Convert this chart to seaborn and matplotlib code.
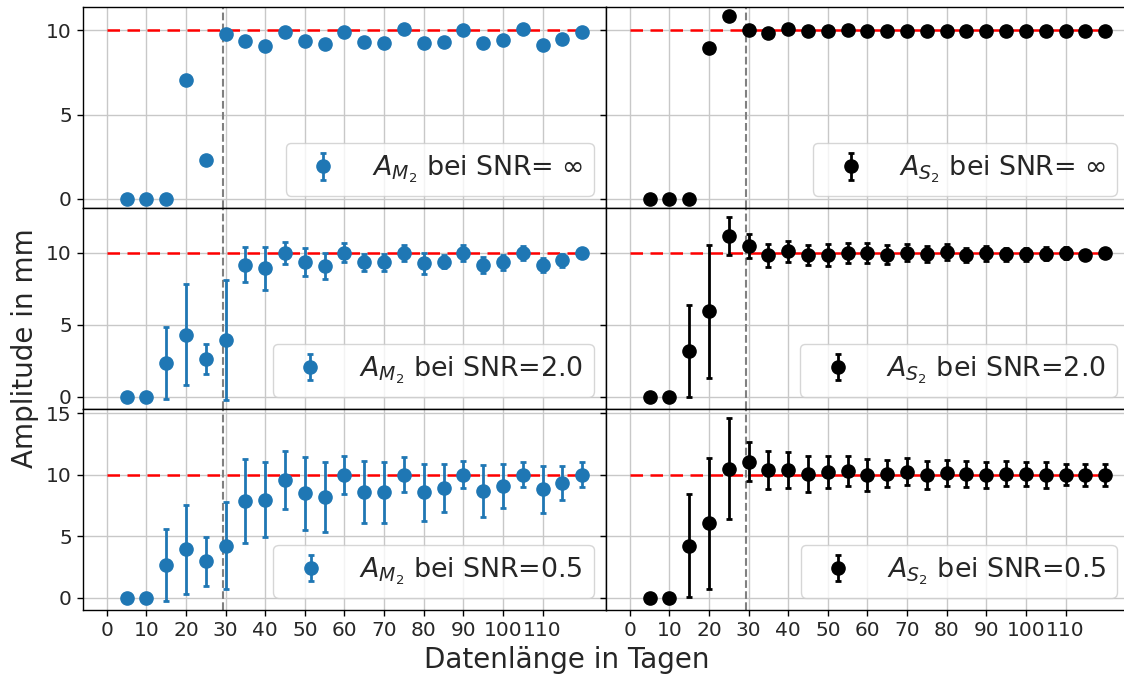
import matplotlib
matplotlib.use("Agg")
import matplotlib.pyplot as plt
import seaborn as sns

# ---------------- data ----------------
days = [5, 10, 15, 20, 25, 30, 35, 40, 45, 50, 55, 60,
        65, 70, 75, 80, 85, 90, 95, 100, 105, 110, 115, 120]
xticks = [0, 10, 20, 30, 40, 50, 60, 70, 80, 90, 100, 110]

m2_inf = [0, 0, 0, 7.03, 2.28, 9.8, 9.37, 9.05, 9.9, 9.35, 9.17, 9.9,
          9.29, 9.23, 10.04, 9.21, 9.29, 10.0, 9.23, 9.39, 10.04, 9.15, 9.47, 9.9]
m2_inf_err = [0] * 24
s2_inf = [0, 0, 0, 8.97, 10.83, 10.0, 9.84, 10.04, 9.94, 9.94, 10.0, 9.95,
          9.95, 9.96, 9.95, 9.96, 9.95, 9.96, 9.95, 9.96, 9.95, 9.95, 9.95, 9.95]
s2_inf_err = [0] * 24

m2_2 = [0, 0, 2.34, 4.3, 2.62, 3.95, 9.17, 8.92, 10.0, 9.36, 9.08, 10.0,
        9.34, 9.34, 10.0, 9.26, 9.38, 10.0, 9.15, 9.33, 10.0, 9.15, 9.47, 10.0]
m2_2_err = [0, 0, 2.5, 3.5, 1.05, 4.15, 1.2, 1.5, 0.75, 0.95, 0.9, 0.65,
            0.58, 0.6, 0.55, 0.7, 0.45, 0.57, 0.55, 0.5, 0.5, 0.5, 0.45, 0.35]
s2_2 = [0, 0, 3.18, 5.93, 11.17, 10.46, 9.84, 10.09, 9.86, 9.84, 9.98, 9.98,
        9.86, 10.0, 9.9, 10.05, 9.86, 9.95, 9.9, 9.9, 9.93, 9.98, 9.86, 10.0]
s2_2_err = [0, 0, 3.2, 4.6, 1.3, 0.85, 0.8, 0.72, 0.7, 0.75, 0.7, 0.7,
            0.65, 0.6, 0.55, 0.55, 0.5, 0.5, 0.45, 0.45, 0.45, 0.4, 0.35, 0.35]

m2_05 = [0, 0, 2.66, 3.93, 2.98, 4.25, 7.86, 7.97, 9.57, 8.48, 8.16, 10.0,
         8.59, 8.56, 10.0, 8.56, 8.89, 10.0, 8.67, 9.1, 10.0, 8.83, 9.32, 10.0]
m2_05_err = [0, 0, 2.9, 3.65, 2.0, 3.5, 3.4, 3.05, 2.35, 2.95, 2.85, 1.55,
             2.5, 2.45, 1.4, 2.3, 1.95, 1.1, 2.1, 1.8, 1.0, 1.9, 1.4, 1.0]
s2_05 = [0, 0, 4.25, 6.04, 10.49, 11.06, 10.38, 10.41, 10.05, 10.19, 10.3, 10.0,
         10.08, 10.24, 10.0, 10.13, 10.08, 10.0, 10.08, 10.08, 10.0, 10.0, 10.0, 10.0]
s2_05_err = [0, 0, 4.15, 5.3, 4.1, 1.6, 1.55, 1.45, 1.45, 1.3, 1.25, 1.3,
             1.1, 1.1, 1.15, 1.05, 1.05, 1.07, 1.0, 0.97, 1.05, 0.85, 0.9, 0.9]

snr_labels = [r"= $\infty$", "=2.0", "=0.5"]
row_yticks = [[0, 5, 10], [0, 5, 10], [0, 5, 10, 15]]
true_amp = 10
cutoff_day = 29.3

rows = [
    [(m2_inf, m2_inf_err), (s2_inf, s2_inf_err)],
    [(m2_2, m2_2_err), (s2_2, s2_2_err)],
    [(m2_05, m2_05_err), (s2_05, s2_05_err)],
]
names = [r"$A_{M_2}$", r"$A_{S_2}$"]

# ---------------- style ----------------
sns.set_theme(style="whitegrid")
blue = sns.color_palette("tab10")[0]
colors = [blue, "black"]
plt.rcParams.update({
    "font.family": ["DejaVu Sans"],
    "mathtext.fontset": "dejavusans",
    "axes.edgecolor": "black",
    "axes.linewidth": 1.0,
    "xtick.bottom": True,
    "ytick.left": True,
    "xtick.direction": "out",
    "ytick.direction": "out",
    "xtick.major.size": 4.5,
    "ytick.major.size": 4.5,
    "xtick.major.width": 1.0,
    "ytick.major.width": 1.0,
    "xtick.color": "black",
    "ytick.color": "black",
    "xtick.labelcolor": "#262626",
    "ytick.labelcolor": "#262626",
    "grid.color": "#c8c8c8",
    "grid.linewidth": 1.0,
})

fig, axes = plt.subplots(3, 2, figsize=(11.24, 6.75), dpi=100,
                         sharex=True, sharey="row")
fig.subplots_adjust(left=0.0738, right=1.0044, top=0.9896, bottom=0.0963,
                    hspace=0, wspace=0)

for r in range(3):
    for c in range(2):
        ax = axes[r, c]
        vals, err = rows[r][c]
        ax.hlines(true_amp, days[0] - 5, days[-1], colors="red",
                  linestyles=(0, (5, 3)), lw=1.8, zorder=2)
        ax.axvline(cutoff_day, color="grey", ls="--", lw=1.5, zorder=2)
        ax.errorbar(days, vals, yerr=err, fmt="o", color=colors[c], ms=9.5,
                    elinewidth=2, capsize=2.2, capthick=2, zorder=3,
                    label=f"{names[c]} bei SNR{snr_labels[r]}")
        ax.legend(loc="lower right", fontsize=19.4, handlelength=2.0,
                  framealpha=0.8, borderaxespad=0.45)
        ax.set_xticks(xticks)
        ax.set_xlim(-6, 126)
        ax.set_yticks(row_yticks[r])
        ax.tick_params(labelsize=14.5)
        ax.grid(True)

fig.text(0.504, 0.022, "Datenlänge in Tagen", ha="center", va="center",
         fontsize=20)
fig.text(0.022, 0.484, "Amplitude in mm", ha="center", va="center",
         rotation=90, fontsize=20)

fig.savefig("out.png", dpi=100)
